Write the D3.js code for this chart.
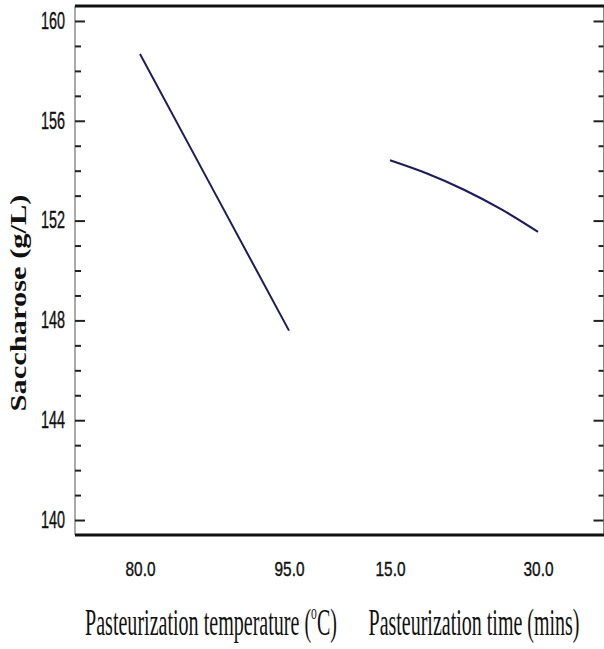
<!DOCTYPE html>
<html>
<head>
<meta charset="utf-8">
<script src="https://cdn.jsdelivr.net/npm/d3@7"></script>
<style>
  html, body { margin: 0; padding: 0; background: #fff; }
  svg { display: block; }
</style>
</head>
<body>
<svg id="chart" width="604" height="649"></svg>
<script>
// Main-effect readings for saccharose (g/L)
const tempLevels = [80, 87.5, 95];
const tempSaccharose = [158.68, 153.13, 147.59];
const timeLevels = [15, 18.75, 22.5, 26.25, 30];
const timeSaccharose = [154.42, 153.89, 153.24, 152.46, 151.55];

const yMajorTicks = [140, 144, 148, 152, 156, 160];
const yMinorTicks = d3.range(140, 161).filter(v => !yMajorTicks.includes(v));
const tempTicks = [80, 95];
const timeTicks = [15, 30];

const yTitle = "Saccharose (g/L)";
const tempTitle = "Pasteurization temperature (";
const timeTitle = "Pasteurization time (mins)";

const svg = d3.select("#chart");
const frameLeft = 75, frameRight = 603.5, frameTop = 6, frameBottom = 535;

const y = d3.scaleLinear().domain([139.4, 160.6]).range([frameBottom, frameTop]);
const xTemp = d3.scaleLinear().domain([80, 95]).range([140, 289]);
const xTime = d3.scaleLinear().domain([15, 30]).range([390, 538]);

const lineColor = "#1d1d5c";

// frame: thin side rules, heavy top and bottom rules
svg.append("line").attr("x1", frameLeft).attr("x2", frameLeft).attr("y1", frameTop).attr("y2", frameBottom)
  .attr("stroke", "#555").attr("stroke-width", 1);
svg.append("line").attr("x1", frameRight).attr("x2", frameRight).attr("y1", frameTop).attr("y2", frameBottom)
  .attr("stroke", "#888").attr("stroke-width", 1);
svg.append("line").attr("x1", frameLeft).attr("x2", 604).attr("y1", frameTop).attr("y2", frameTop)
  .attr("stroke", "#111").attr("stroke-width", 3);
svg.append("line").attr("x1", frameLeft).attr("x2", 604).attr("y1", frameBottom).attr("y2", frameBottom)
  .attr("stroke", "#111").attr("stroke-width", 3);

// left axis: inward ticks, labels outside
const leftMajor = svg.append("g").attr("transform", `translate(${frameLeft},0)`)
  .call(d3.axisLeft(y).tickValues(yMajorTicks).tickSize(-10).tickPadding(10).tickFormat(d3.format("d")));
const leftMinor = svg.append("g").attr("transform", `translate(${frameLeft},0)`)
  .call(d3.axisLeft(y).tickValues(yMinorTicks).tickSize(-6).tickFormat(""));
const rightMajor = svg.append("g").attr("transform", `translate(${frameRight},0)`)
  .call(d3.axisRight(y).tickValues(yMajorTicks).tickSize(-10).tickFormat(""));
const rightMinor = svg.append("g").attr("transform", `translate(${frameRight},0)`)
  .call(d3.axisRight(y).tickValues(yMinorTicks).tickSize(-5).tickFormat(""));

[leftMajor, leftMinor, rightMajor, rightMinor].forEach(g => {
  g.select(".domain").remove();
  g.selectAll(".tick line").attr("stroke", "#222").attr("stroke-width", 2);
});
leftMajor.selectAll(".tick text")
  .attr("font-family", "'Liberation Sans', Arial, sans-serif")
  .attr("font-size", 23)
  .attr("fill", "#111")
  .attr("stroke", "#111")
  .attr("stroke-width", 0.4)
  .attr("textLength", 24)
  .attr("lengthAdjust", "spacingAndGlyphs");

// bottom labels for both factors
function bottomLabels(scale, ticks) {
  const g = svg.append("g").attr("transform", `translate(0,${frameBottom})`)
    .call(d3.axisBottom(scale).tickValues(ticks).tickSize(0).tickPadding(26).tickFormat(d3.format(".1f")));
  g.select(".domain").remove();
  g.selectAll(".tick line").remove();
  g.selectAll(".tick text")
    .attr("font-family", "'Liberation Sans', Arial, sans-serif")
    .attr("font-size", 21)
    .attr("fill", "#111")
    .attr("stroke", "#111")
    .attr("stroke-width", 0.4)
    .attr("dy", 0)
    .attr("y", 41)
    .attr("textLength", 30)
    .attr("lengthAdjust", "spacingAndGlyphs");
}
bottomLabels(xTemp, tempTicks);
bottomLabels(xTime, timeTicks);

// effect lines
svg.append("path")
  .datum(tempLevels.map((t, i) => [t, tempSaccharose[i]]))
  .attr("fill", "none").attr("stroke", lineColor).attr("stroke-width", 2)
  .attr("d", d3.line().x(d => xTemp(d[0])).y(d => y(d[1])));
svg.append("path")
  .datum(timeLevels.map((t, i) => [t, timeSaccharose[i]]))
  .attr("fill", "none").attr("stroke", lineColor).attr("stroke-width", 2.2)
  .attr("d", d3.line().curve(d3.curveCatmullRom).x(d => xTime(d[0])).y(d => y(d[1])));

// condensed serif axis titles
function condensedTitle(build, cx, baseline, width) {
  const g = svg.append("g");
  const t = g.append("text")
    .attr("font-family", "'Liberation Serif', 'Times New Roman', serif")
    .attr("font-size", 38)
    .attr("fill", "#111")
    .attr("text-anchor", "middle");
  build(t);
  const w = t.node().getComputedTextLength();
  g.attr("transform", `translate(${cx},${baseline}) scale(${width / w},1)`);
}
condensedTitle(t => {
  t.append("tspan").text(tempTitle);
  t.append("tspan").attr("font-size", 22).attr("dy", -16).text("o");
  t.append("tspan").attr("dy", 16).text("C)");
}, 211, 635, 252);
condensedTitle(t => t.text(timeTitle), 474, 635, 211);

// vertical response title
svg.append("text")
  .attr("transform", "translate(26,303) rotate(-90)")
  .attr("text-anchor", "middle")
  .attr("font-family", "'Liberation Serif', 'Times New Roman', serif")
  .attr("font-weight", "bold")
  .attr("font-size", 24)
  .attr("fill", "#111")
  .attr("textLength", 217)
  .attr("lengthAdjust", "spacingAndGlyphs")
  .text(yTitle);
</script>
</body>
</html>
